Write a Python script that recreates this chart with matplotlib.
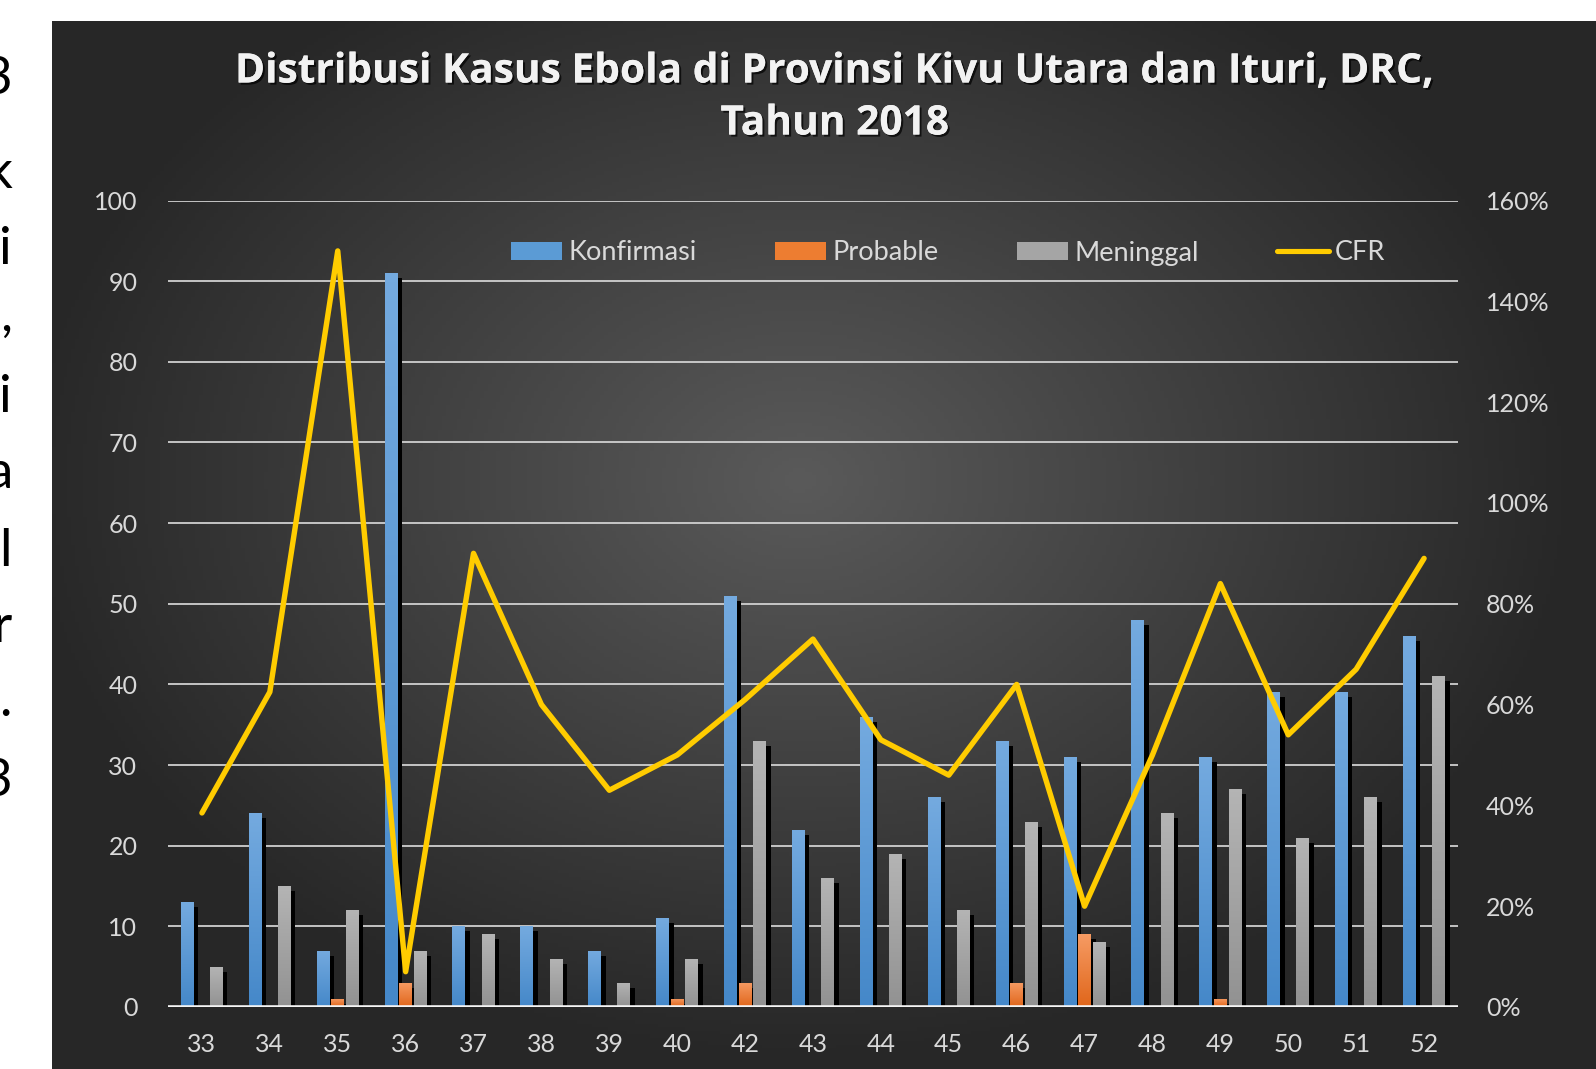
import numpy as np
import matplotlib
matplotlib.use('Agg')
import matplotlib.pyplot as plt
from matplotlib.colors import LinearSegmentedColormap
from matplotlib.lines import Line2D
from matplotlib.patches import Patch
import matplotlib.patheffects as pe

# ---------------- data ----------------
weeks = ['33', '34', '35', '36', '37', '38', '39', '40', '42', '43',
         '44', '45', '46', '47', '48', '49', '50', '51', '52']
konfirmasi = [13, 24, 7, 91, 10, 10, 7, 11, 51, 22, 36, 26, 33, 31, 48, 31, 39, 39, 46]
probable = [0, 0, 1, 3, 0, 0, 0, 1, 3, 0, 0, 0, 3, 9, 0, 1, 0, 0, 0]
meninggal = [5, 15, 12, 7, 9, 6, 3, 6, 33, 16, 19, 12, 23, 8, 24, 27, 21, 26, 41]
cfr_pct = [38.5, 62.5, 150, 7, 90, 60, 43, 50, 61, 73, 53, 46, 64, 20, 50, 84, 54, 67, 89]
left_ticks = list(range(0, 101, 10))
right_ticks = list(range(0, 161, 20))
series_names = ['Konfirmasi', 'Probable', 'Meninggal', 'CFR']
title_lines = ['Distribusi Kasus Ebola di Provinsi Kivu Utara dan Ituri, DRC,',
               'Tahun 2018']
side_chars = ['3', 'k', 'i', ',', 'i', 'a', 'l', 'r', '.', '3']

# ---------------- style ----------------
W, H = 1596, 1069
FONT = 'Lato'
TXT = '#d9d9d9'
plt.rcParams['font.family'] = [FONT, 'DejaVu Sans']

fig = plt.figure(figsize=(W / 100, H / 100), dpi=100, facecolor='white')

# dark panel with radial gradient
px0, py0 = 52, 21
bg = fig.add_axes([px0 / W, 0, 1 - px0 / W, 1 - py0 / H])
xs = np.linspace(px0, W, 400)
ys = np.linspace(py0, H, 300)
X, Y = np.meshgrid(xs, ys)
r = np.sqrt(((X - 800) / 780) ** 2 + ((Y - 480) / 580) ** 2)
v = (0x27 + (0x5a - 0x27) * (1 - np.clip(r, 0, 1))) / 255.0
bg.imshow(np.dstack([v, v, v]), extent=[0, 1, 0, 1], aspect='auto', origin='upper')
bg.set_axis_off()

# main axes
ax_l, ax_r, ax_t, ax_b = 168, 1458, 200.5, 1007
ax = fig.add_axes([ax_l / W, (H - ax_b) / H, (ax_r - ax_l) / W, (ax_b - ax_t) / H])
ax.patch.set_visible(False)
x = np.arange(len(weeks))
xlim = (-0.5, len(weeks) - 0.5)

bw = 0.19
offs = [-0.215, 0.0, 0.215]
sdx, sdy = 0.066, 0.62
grads = [('#74aadf', '#4588c9'), ('#f69b63', '#e0661b'), ('#b4b4b4', '#929292')]
data = [konfirmasi, probable, meninggal]

def gradient_fill(rects, top, bottom, z):
    cmap = LinearSegmentedColormap.from_list('g', [bottom, top])
    g = np.linspace(0, 1, 64).reshape(-1, 1)
    for rc in rects:
        h = rc.get_height()
        if h <= 0:
            continue
        x0, w = rc.get_x(), rc.get_width()
        im = ax.imshow(g, cmap=cmap, extent=[x0, x0 + w, 0, h], origin='lower',
                       aspect='auto', zorder=z, interpolation='bilinear')
        im.set_clip_path(rc)
        rc.set_facecolor('none')
        rc.set_edgecolor('none')

for vals, off, (top, bot) in zip(data, offs, grads):
    vals = np.array(vals, dtype=float)
    sh = np.where(vals > 0, np.maximum(vals - sdy, 0), 0)
    ax.bar(x + off + sdx, sh, width=bw, color='black', zorder=2, linewidth=0)
    rects = ax.bar(x + off, vals, width=bw, color=bot, zorder=3, linewidth=0)
    gradient_fill(rects, top, bot, 3)

ax.set_xlim(*xlim)
ax.set_ylim(0, 100)
ax.set_yticks(left_ticks)
ax.set_yticklabels([str(t) for t in left_ticks])
ax.set_xticks(x)
ax.set_xticklabels(weeks)
ax.yaxis.grid(True, color='#d0d0d0', lw=1.3)
ax.set_axisbelow(True)
ax.axhline(0, color='#f5f5f5', lw=2.6, zorder=4)
for s in ax.spines.values():
    s.set_visible(False)
ax.tick_params(axis='y', length=0, labelsize=18, labelcolor=TXT, pad=22)
ax.tick_params(axis='x', length=0, labelsize=18, labelcolor=TXT, pad=19)

ax2 = ax.twinx()
ax2.patch.set_visible(False)
ax2.plot(x, cfr_pct, color='#ffcc00', lw=3.9, solid_joinstyle='round',
         solid_capstyle='round', zorder=5)
ax2.set_ylim(0, 160)
ax2.set_yticks(right_ticks)
ax2.set_yticklabels([f'{t}%' for t in right_ticks])
for s in ax2.spines.values():
    s.set_visible(False)
ax2.tick_params(axis='y', length=0, labelsize=18, labelcolor=TXT, pad=20)
ax2.set_xlim(*xlim)

handles = [Patch(facecolor='#5b9bd5', edgecolor='none'),
           Patch(facecolor='#ed7d31', edgecolor='none'),
           Patch(facecolor='#a5a5a5', edgecolor='none'),
           Line2D([0], [0], color='#ffcc00', lw=3.7, solid_capstyle='round')]
leg = ax2.legend(handles, series_names, ncol=4, loc='center',
                 bbox_to_anchor=(948 / W, 1 - 253 / H), bbox_transform=fig.transFigure,
                 frameon=False, fontsize=19.5, handlelength=1.9, handleheight=0.62,
                 handletextpad=0.22, columnspacing=2.9, labelcolor=TXT)

# title
shadow = [pe.withSimplePatchShadow(offset=(1.5, -1.5), shadow_rgbFace='black', alpha=0.7),
          pe.Normal()]
for ln, yy in zip(title_lines, [72, 124]):
    fig.text(835 / W, 1 - yy / H, ln, ha='center', va='center', fontsize=29.3,
             fontweight='bold', color='#f2f2f2', family=['Open Sans', 'DejaVu Sans'],
             path_effects=shadow)

# cut-off slide text at the left edge
side_y = [94, 188, 264, 331, 412, 488, 566, 642, 716, 796]
for ch, yy in zip(side_chars, side_y):
    fig.text(12 / W, 1 - yy / H, ch, ha='right', va='baseline', fontsize=38,
             color='black')

fig.savefig('out.png', dpi=100, facecolor='white')
